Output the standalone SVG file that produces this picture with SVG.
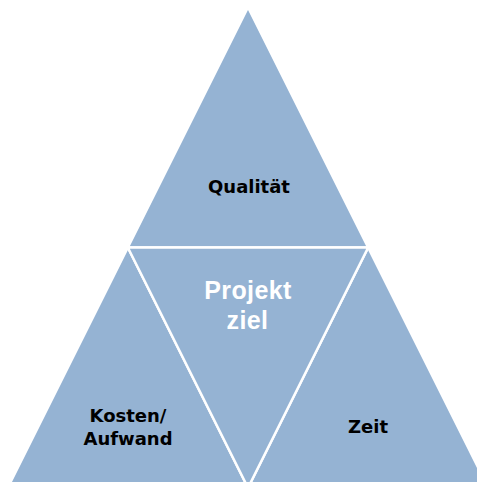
<svg xmlns="http://www.w3.org/2000/svg" width="477" height="482" viewBox="0 0 477 482">
<style>
.tri{fill:#95B3D3;stroke:#FFFFFF;stroke-width:2.5;stroke-linejoin:miter}
.lbl{font-family:"DejaVu Sans","Liberation Sans",sans-serif;font-weight:bold;font-size:18px;fill:#000000;text-anchor:middle}
.ctr{font-family:"Liberation Sans",Arial,sans-serif;font-weight:bold;font-size:25px;fill:#FFFFFF;text-anchor:middle;letter-spacing:0.4px}
</style>
<rect width="477" height="482" fill="#FFFFFF"/>
<g id="connectors"></g>
<g id="qualitaet">
<polygon class="tri" points="248,7.2 127.85,247.5 368.15,247.5"/>
<text class="lbl" x="249" y="193">Qualität</text>
</g>
<g id="kosten">
<polygon class="tri" points="127.85,247.5 7.7,487.8 248,487.8"/>
<text class="lbl" x="128" y="422">Kosten/</text>
<text class="lbl" x="128" y="445">Aufwand</text>
</g>
<g id="zeit">
<polygon class="tri" points="368.15,247.5 248,487.8 488.3,487.8"/>
<text class="lbl" x="368" y="433">Zeit</text>
</g>
<g id="projektziel">
<polygon class="tri" points="127.85,247.5 368.15,247.5 248,487.8"/>
<text class="ctr" x="248" y="298.5">Projekt</text>
<text class="ctr" x="247.5" y="328.5">ziel</text>
</g>
</svg>
